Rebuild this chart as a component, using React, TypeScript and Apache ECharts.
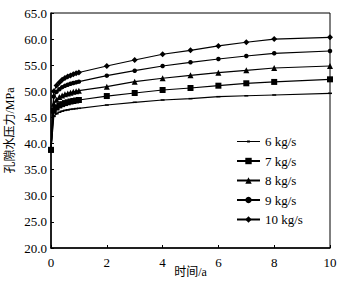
import React, { useEffect, useRef } from "react";
import * as echarts from "echarts";

const times = [0, 0.1, 0.2, 0.3, 0.4, 0.5, 0.6, 0.7, 0.8, 0.9, 1.0, 2, 3, 4, 5, 6, 7, 8, 10];
const seriesNames = ["6 kg/s", "7 kg/s", "8 kg/s", "9 kg/s", "10 kg/s"];
const p6 = [38.8, 45.2, 45.7, 46.0, 46.2, 46.35, 46.45, 46.55, 46.62, 46.7, 46.75, 47.38, 47.9, 48.34, 48.6, 48.98, 49.15, 49.3, 49.62];
const p7 = [38.8, 46.3, 46.9, 47.3, 47.55, 47.75, 47.9, 48.05, 48.15, 48.25, 48.34, 49.1, 49.68, 50.26, 50.64, 51.08, 51.54, 51.8, 52.3];
const p8 = [38.8, 47.6, 48.4, 48.9, 49.2, 49.45, 49.6, 49.75, 49.9, 50.0, 50.12, 50.89, 51.85, 52.5, 53.07, 53.57, 54.03, 54.47, 54.85];
const p9 = [38.8, 49.0, 49.9, 50.4, 50.8, 51.05, 51.25, 51.45, 51.6, 51.72, 51.85, 53.0, 53.95, 54.85, 55.56, 56.19, 56.77, 57.28, 57.72];
const p10 = [38.8, 50.0, 51.1, 51.7, 52.2, 52.55, 52.85, 53.05, 53.25, 53.45, 53.6, 54.85, 56.0, 57.1, 57.85, 58.7, 59.4, 60.0, 60.35];
const values = [p6, p7, p8, p9, p10];
const symbols = ["rect", "rect", "triangle", "circle", "diamond"];
const symbolSizes: (number | number[])[] = [[4, 1.5], 6, 6, 4.5, 6];

const serif = "Times New Roman";
const cjk = "Times New Roman, Noto Sans CJK SC";

const smallIcon = "path://M0,0L0.01,0L0,0.01Z M24,8L23.99,8L24,7.99Z M0,3.4H24V4.6H0Z M10.5,3H13.5V5H10.5Z";

export default function App() {
  const ref = useRef<HTMLDivElement>(null);
  useEffect(() => {
    if (!ref.current) return;
    const chart = echarts.init(ref.current, null, { renderer: "svg" });
    chart.setOption({
      animation: false,
      backgroundColor: "#fff",
      textStyle: { fontFamily: serif },
      grid: {
        left: 51,
        right: 18,
        top: 13,
        bottom: 37,
        show: true,
        borderColor: "#000",
        borderWidth: 1,
        containLabel: false,
        outerBoundsMode: "none",
      },
      legend: {
        orient: "vertical",
        left: 231,
        top: 130,
        itemWidth: 23,
        itemHeight: 8,
        itemGap: 6.5,
        data: seriesNames.map((n, i) => (i === 0 ? { name: n, icon: smallIcon } : { name: n })),
        textStyle: { fontFamily: serif, fontSize: 13, color: "#000" },
      },
      xAxis: {
        type: "value",
        min: 0,
        max: 10,
        interval: 2,
        name: "时间/a",
        nameLocation: "middle",
        nameGap: 18,
        nameMoveOverlap: false,
        nameTextStyle: { fontFamily: cjk, fontSize: 12, color: "#000" },
        axisLine: { show: true, lineStyle: { color: "#000", width: 1.5 } },
        axisTick: { show: true, inside: true, length: 3, lineStyle: { color: "#000" } },
        axisLabel: { fontFamily: serif, fontSize: 13, color: "#000", margin: 8 },
        splitLine: { show: false },
      },
      yAxis: {
        type: "value",
        min: 20,
        max: 65,
        interval: 5,
        name: "孔隙水压力/MPa",
        nameLocation: "middle",
        nameRotate: 90,
        nameGap: 35,
        nameMoveOverlap: false,
        nameTextStyle: { fontFamily: cjk, fontSize: 12, color: "#000" },
        axisLine: { show: true, lineStyle: { color: "#000", width: 1.5 } },
        axisTick: { show: true, inside: true, length: 3, lineStyle: { color: "#000" } },
        axisLabel: {
          fontFamily: serif,
          fontSize: 13,
          color: "#000",
          margin: 4,
          formatter: (v: number) => v.toFixed(1),
        },
        splitLine: { show: false },
      },
      series: seriesNames.map((name, i) => ({
        name,
        type: "line",
        data: times.map((t, j) => [t, values[i][j]]),
        symbol: symbols[i],
        symbolSize: symbolSizes[i],
        showAllSymbol: true,
        lineStyle: { color: "#000", width: 1.2 },
        itemStyle: { color: "#000" },
        z: 2 + i,
      })),
    });
    return () => chart.dispose();
  }, []);
  return (
    <div
      ref={ref}
      style={{ position: "absolute", left: 0, top: 0, width: 348, height: 285 }}
    />
  );
}
